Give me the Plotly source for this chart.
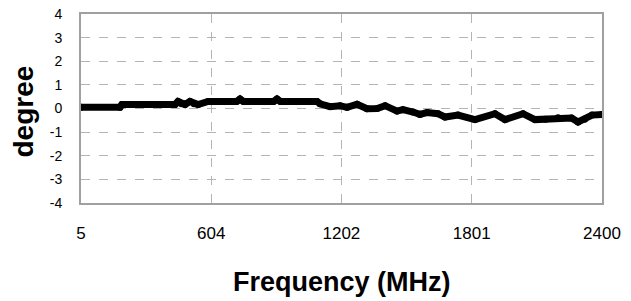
import plotly.graph_objects as go

freq = [5, 184, 193, 437, 451, 467, 483, 506, 525, 543, 589, 720, 736, 752, 890, 906,
        922, 1090, 1104, 1150, 1196, 1228, 1274, 1320, 1366, 1403, 1458, 1485, 1531,
        1563, 1596, 1646, 1678, 1738, 1816, 1908, 1954, 2037, 2092, 2140, 2198, 2260,
        2290, 2320, 2354, 2400]
phase = [0.05, 0.05, 0.17, 0.17, 0.3, 0.2, 0.17, 0.3, 0.2, 0.17, 0.3, 0.3, 0.4, 0.3,
         0.3, 0.4, 0.3, 0.3, 0.2, 0.08, 0.12, 0.05, 0.18, -0.01, 0.0, 0.12, -0.11,
         -0.05, -0.15, -0.25, -0.17, -0.22, -0.36, -0.28, -0.47, -0.22, -0.47, -0.22,
         -0.47, -0.45, -0.39, -0.4, -0.57, -0.45, -0.28, -0.25]

x_ticks = [5, 604, 1202, 1801, 2400]
y_ticks = [-4, -3, -2, -1, 0, 1, 2, 3, 4]
x_title = "Frequency (MHz)"
y_title = "degree"

sans = "Arial, Liberation Sans, sans-serif"

fig = go.Figure()
fig.add_trace(go.Scatter(
    x=freq, y=phase, mode="lines+markers",
    line=dict(color="black", width=7),
    marker=dict(color="black", size=7),
    showlegend=False,
))

grid = "#b4b4b4"
fig.update_layout(
    width=631, height=301,
    margin=dict(l=81, r=29, t=14, b=98),
    paper_bgcolor="white", plot_bgcolor="white",
    font=dict(family=sans, color="black", size=14),
    xaxis=dict(
        range=[5, 2400], tickvals=x_ticks, ticktext=[str(v) for v in x_ticks],
        tickfont=dict(family=sans, size=17),
        showgrid=True, gridcolor=grid, griddash="dash", gridwidth=1,
        showline=True, mirror=True, linecolor="#a0a0a0", linewidth=2,
        ticks="", ticklabelstandoff=14, zeroline=False, automargin=False,
        ticklabeloverflow="allow",
    ),
    yaxis=dict(
        range=[-4, 4], tickvals=y_ticks, ticktext=[str(v) for v in y_ticks],
        tickfont=dict(family=sans, size=14),
        showgrid=True, gridcolor=grid, griddash="dash", gridwidth=1,
        showline=True, mirror=True, linecolor="#a0a0a0", linewidth=2,
        ticks="", ticklabelstandoff=14, zeroline=False, automargin=False,
        ticklabeloverflow="allow",
    ),
    annotations=[
        dict(text=x_title, xref="paper", yref="paper", x=0.5, y=0,
             xanchor="center", yanchor="middle", yshift=-79, showarrow=False,
             font=dict(family=sans, size=27, weight="bold", color="black")),
        dict(text=y_title, xref="paper", yref="paper", x=0, y=0.5,
             xanchor="center", yanchor="middle", xshift=-58, yshift=-3,
             textangle=-90, showarrow=False,
             font=dict(family=sans, size=28, weight="bold", color="black")),
    ],
)

fig.write_html("out.html", config={"displayModeBar": False},
               post_script="document.body.style.margin='0px';")
